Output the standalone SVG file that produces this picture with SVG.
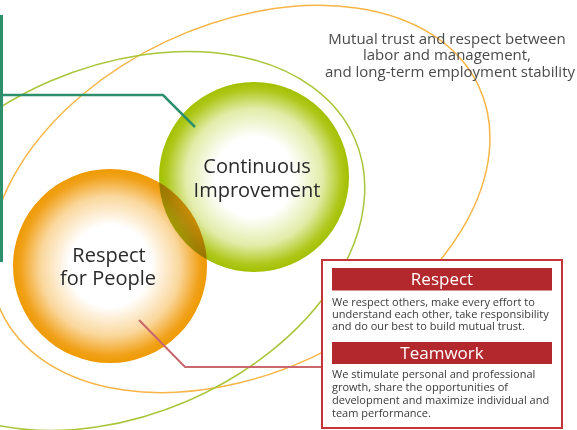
<svg xmlns="http://www.w3.org/2000/svg" width="577" height="430" viewBox="0 0 577 430">
<defs>
<radialGradient id="gradOrange" cx="50%" cy="50%" r="50%">
<stop offset="0" stop-color="#ffffff"/>
<stop offset="0.42" stop-color="#ffffff"/>
<stop offset="0.72" stop-color="#FAD79C"/>
<stop offset="0.92" stop-color="#F1A21C"/>
<stop offset="1" stop-color="#EE9A00"/>
</radialGradient>
<radialGradient id="gradGreen" cx="50%" cy="50%" r="50%">
<stop offset="0" stop-color="#ffffff"/>
<stop offset="0.42" stop-color="#ffffff"/>
<stop offset="0.72" stop-color="#E2ECA8"/>
<stop offset="0.92" stop-color="#AFC81C"/>
<stop offset="1" stop-color="#A3C000"/>
</radialGradient>
<style>
.orbit{fill:none;stroke-width:1.5}
.lbl{font-family:"Open Sans","Noto Sans","DejaVu Sans",sans-serif;fill:#2a2a2a;font-size:20px;text-anchor:middle}
.top{font-family:"Open Sans","Noto Sans","DejaVu Sans",sans-serif;fill:#4a4a4a;font-size:15px;text-anchor:middle}
.hdr{font-family:"Open Sans","Noto Sans","DejaVu Sans",sans-serif;fill:#ffffff;font-size:17px;text-anchor:middle}
.body{font-family:"Open Sans","Noto Sans","DejaVu Sans",sans-serif;fill:#3a3a3a;font-size:11px}
.bar{fill:#B3282D}
</style>
</defs>
<rect width="577" height="430" fill="#ffffff"/>

<g id="orbit-orange">
<ellipse class="orbit" cx="240" cy="199" rx="264" ry="174" transform="rotate(-25.3 240 199)" stroke="#F6B546"/>
</g>
<g id="orbit-green">
<ellipse class="orbit" cx="119" cy="241" rx="257" ry="174" transform="rotate(-23.4 119 241)" stroke="#A9C53A"/>
</g>

<g id="respect-for-people">
<circle cx="110" cy="266" r="97" fill="url(#gradOrange)"/>
<text class="lbl" x="109" y="262">Respect</text>
<text class="lbl" x="108" y="285">for People</text>
</g>

<g id="continuous-improvement">
<circle cx="254" cy="177" r="95" fill="url(#gradGreen)" style="mix-blend-mode:multiply"/>
<text class="lbl" x="257" y="173">Continuous</text>
<text class="lbl" x="257" y="197">Improvement</text>
</g>

<g id="mutual-trust">
<text class="top" x="447" y="44">Mutual trust and respect between</text>
<text class="top" x="447" y="60">labor and management,</text>
<text class="top" x="450" y="77">and long-term employment stability</text>
</g>

<g id="connectors">
<polyline points="1.5,15 1.5,262" fill="none" stroke="#2E8F6C" stroke-width="3"/>
<polyline points="0,95 163,95 195,127" fill="none" stroke="#2E8F6C" stroke-width="2.5"/>
<polyline points="139,320 185,367 322,367" fill="none" stroke="#C9676C" stroke-width="2"/>
</g>

<g id="respect-teamwork-box">
<rect x="322" y="260" width="240" height="168" fill="#ffffff" stroke="#C4343A" stroke-width="2"/>
<rect class="bar" x="332" y="268" width="220" height="22.5"/>
<text class="hdr" x="442" y="285">Respect</text>
<text class="body" x="332" y="306">We respect others, make every effort to</text>
<text class="body" x="332" y="318">understand each other, take responsibility</text>
<text class="body" x="332" y="330">and do our best to build mutual trust.</text>
<rect class="bar" x="332" y="342" width="220" height="22"/>
<text class="hdr" x="442" y="359">Teamwork</text>
<text class="body" x="332" y="378">We stimulate personal and professional</text>
<text class="body" x="332" y="391">growth, share the opportunities of</text>
<text class="body" x="332" y="404">development and maximize individual and</text>
<text class="body" x="332" y="417">team performance.</text>
</g>
</svg>
